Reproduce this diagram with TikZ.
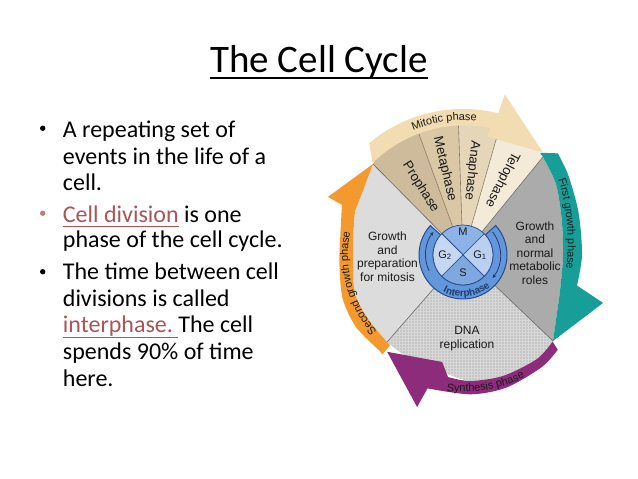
\documentclass[tikz,border=0pt]{standalone}
\usepackage{fontspec}
\setmainfont{Carlito}
\newfontfamily\dfont{Liberation Sans}
\usetikzlibrary{decorations.text,arrows.meta,patterns}
\definecolor{ulred}{HTML}{A85656}
\definecolor{bulred}{HTML}{C27A7A}
\definecolor{g2col}{HTML}{DCDCDC}
\definecolor{scol}{HTML}{C6C6C6}
\definecolor{g1col}{HTML}{ABABAB}
\definecolor{procol}{HTML}{CDBB9C}
\definecolor{metacol}{HTML}{DAC7A5}
\definecolor{anacol}{HTML}{E6D6B9}
\definecolor{telocol}{HTML}{F3EAD8}
\definecolor{creamcol}{HTML}{F2DCB2}
\definecolor{orangecol}{HTML}{F4992D}
\definecolor{tealcol}{HTML}{179E99}
\definecolor{purplecol}{HTML}{8E2C7C}
\definecolor{ringcol}{HTML}{6496DC}
\definecolor{ringedge}{HTML}{254D8E}
\definecolor{mcol}{HTML}{8CB2E8}
\definecolor{sqcol}{HTML}{7FA7E0}
\definecolor{g1q}{HTML}{BBD0F0}
\definecolor{g2q}{HTML}{C6D7F2}
\definecolor{dtext}{HTML}{1A1A1A}
\definecolor{divcol}{HTML}{6A6A6A}
\definecolor{wedgecol}{HTML}{8C7B5E}
\newcommand\myul[1]{\setbox0\hbox{#1}\rlap{\rule[-5pt]{\wd0}{1.2pt}}\box0}
\newcommand\bandfont{\dfont\fontsize{11}{13}\selectfont}
\newcommand\ringfont{\dfont\bfseries\fontsize{10}{12}\selectfont}
\tikzset{
  bodytxt/.style={anchor=base west, inner sep=0pt, font=\fontsize{24}{27}\selectfont},
  bulletdot/.style={circle, fill=black, inner sep=0pt, minimum size=5.4pt},
  slabel/.style={align=center, text=dtext, inner sep=0pt, font=\dfont\fontsize{12}{13.5}\selectfont},
  wlabel/.style={text=dtext, inner sep=0pt, font=\dfont\fontsize{13.3}{15}\selectfont},
  qlabel/.style={text=dtext, inner sep=0pt, font=\dfont\fontsize{11}{13}\selectfont},
  divline/.style={draw=divcol, line width=0.6pt},
  wedgeline/.style={draw=wedgecol, line width=0.6pt},
  bandtext/.style={decorate, decoration={text along path, text align=center, text color=dtext}},
}
\begin{document}
\begin{tikzpicture}[x=1pt,y=1pt]
\useasboundingbox (0,0) rectangle (638,479);
\fill[white] (0,0) rectangle (638,479);

% ---------- title ----------
\node[anchor=base, inner sep=0pt, font=\fontsize{39}{45}\selectfont] (title) at (319,406) {The Cell Cycle};
\draw[line width=2pt] ([yshift=-5pt]title.base west) -- ([yshift=-5pt]title.base east);

% ---------- bullets ----------
\node[bulletdot] (b1) at (42.7,350.7) {};
\node[bulletdot, fill=bulred] (b2) at (42.7,265.7) {};
\node[bulletdot] (b3) at (42.7,207.3) {};

\node[bodytxt] (l1) at (62.7,341) {A repeating set of};
\node[bodytxt] (l2) at (62.7,314) {events in the life of a};
\node[bodytxt] (l3) at (62.7,288) {cell.};
\node[bodytxt] (l4) at (62.7,256.7) {\textcolor{ulred}{\myul{Cell division}} is one};
\node[bodytxt] (l5) at (62.7,231) {phase of the cell cycle.};
\node[bodytxt] (l6) at (62.7,199) {The time between cell};
\node[bodytxt] (l7) at (62.7,172.3) {divisions is called};
\node[bodytxt] (l8) at (62.7,146) {\textcolor{ulred}{\myul{interphase.\ }}The cell};
\node[bodytxt] (l9) at (62.7,119) {spends 90\% of time};
\node[bodytxt] (l10) at (62.7,92.3) {here.};

% ---------- diagram ----------
\begin{scope}[shift={(463,224)}]
% sectors
\fill[g2col] (0,0) -- plot[smooth] coordinates {(134.7:128) (138.3:124.6) (155.2:116.8) (171.7:111.2) (184.7:110.4) (199.9:114.8) (214:114.5) (228.9:115.5)} -- cycle;
\fill[scol] (0,0) -- plot[smooth] coordinates {(228.9:115.5) (243:116.7) (257:117.5) (273:126) (288.3:127.4) (305.4:127.6) (316.3:124.5)} -- cycle;
\fill[pattern=grid, pattern color=white!30!scol] (0,0) -- plot[smooth] coordinates {(228.9:115.5) (243:116.7) (257:117.5) (273:126) (288.3:127.4) (305.4:127.6) (316.3:124.5)} -- cycle;
\fill[g1col] (0,0) -- plot[smooth] coordinates {(-43.7:124.5) (-34.5:113) (-19.3:103) (0:100) (20:105) (37.4:117) (50.8:126.5)} -- cycle;
% mitotic wedges
\fill[procol] (0,0) -- (134.7:128) -- (128:134) -- (110:140) -- cycle;
\fill[metacol] (0,0) -- (110:140) arc[start angle=110, end angle=92, radius=140] -- cycle;
\fill[anacol] (0,0) -- (92:140) arc[start angle=92, end angle=74, radius=140] -- cycle;
\fill[telocol] (0,0) -- (74:140) -- (60:134) -- (50.8:126.5) -- cycle;
% divider lines
\draw[divline] (0,0) -- (134.7:128);
\draw[divline] (0,0) -- (50.8:126.5);
\draw[divline] (0,0) -- (228.9:115.5);
\draw[divline] (0,0) -- (-43.7:124.5);
\draw[wedgeline] (0,0) -- (110:132);
\draw[wedgeline] (0,0) -- (92:132);
\draw[wedgeline] (0,0) -- (74:123);

% orange band (second growth phase)
\fill[orangecol] (231:116) -- plot[smooth] coordinates {(228.9:115.5) (214:114.5) (199.9:114.8) (184.7:110.4) (171.7:111.2) (158:116.5)}
  -- (134.7:128) -- (156.7:147) -- (157.5:131)
  -- plot[smooth] coordinates {(157.5:131) (172:124) (185:124) (200:128) (214:129) (229:127)} -- (231:128) -- cycle;
% teal band (first growth phase)
\fill[tealcol] (53:128) -- plot[smooth] coordinates {(50.8:126.5) (37.4:117) (20:105) (0:100) (-19.3:103) (-34.5:113) (-43.7:124.5)}
  -- (-18.9:148) -- (-15:118)
  -- plot[smooth] coordinates {(-15:118) (0:119) (20:123) (37:132) (47:139)} -- cycle;
% purple band (synthesis phase)
\fill[purplecol] (-44:124.5) -- plot[smooth] coordinates {(-43.7:124.5) (-54.6:127.6) (-71.7:127.4) (-86.8:126.2) (-97:123)}
  -- (259:109) -- (231.9:123) -- (253.2:158.8) -- (-104.9:138)
  -- plot[smooth] coordinates {(-104.9:138) (-87:139.5) (-72:139.5) (-55:137) (-45:134)} -- cycle;
% cream band (mitotic phase)
\fill[creamcol] (134.5:129) arc[start angle=134.5, end angle=78.6, radius=131] -- (78.6:121) -- (52:130) -- (75.4:166) -- (76:146) arc[start angle=76, end angle=130, radius=146] -- cycle;

% band texts
\path[bandtext, decoration={text={|\bandfont|Mitotic phase}}] (120:134.5) arc[start angle=120, end angle=76, radius=134.5];
\path[bandtext, decoration={text={|\bandfont|First growth phase}}] ([shift={(-117.2,12)}]22:222) arc[start angle=22, end angle=-12, radius=222];
\path[bandtext, decoration={text={|\bandfont|Synthesis phase}}] (255:137) arc[start angle=255, end angle=305, radius=137];
\path[bandtext, decoration={text={|\bandfont|Second growth phase}}] (228:115) arc[start angle=228, end angle=162, radius=115];

% central circle
\fill[ringcol, draw=ringedge, line width=1pt] (138:44) arc[start angle=138, end angle=402, radius=44] -- (42:30) arc[start angle=42, end angle=-222, radius=30] -- cycle;
\filldraw[fill=mcol, draw=ringedge, line width=0.7pt] (0,0) -- (45:30) arc[start angle=45, end angle=135, radius=30] -- cycle;
\filldraw[fill=g2q, draw=ringedge, line width=0.7pt] (0,0) -- (135:30) arc[start angle=135, end angle=225, radius=30] -- cycle;
\filldraw[fill=sqcol, draw=ringedge, line width=0.7pt] (0,0) -- (225:30) arc[start angle=225, end angle=315, radius=30] -- cycle;
\filldraw[fill=g1q, draw=ringedge, line width=0.7pt] (0,0) -- (-45:30) arc[start angle=-45, end angle=45, radius=30] -- cycle;
\draw[ringedge!80!black, line width=0.8pt, -{Stealth[length=4pt,width=3.5pt]}] (205:37.5) arc[start angle=205, end angle=142, radius=37.5];
\draw[ringedge!80!black, line width=0.8pt, -{Stealth[length=4pt,width=3.5pt]}] (38:37.5) arc[start angle=38, end angle=-38, radius=37.5];
\path[decorate, decoration={text along path, text align=center, text color=ringedge!80!black, text={|\ringfont|Interphase}}] (236:41.8) arc[start angle=236, end angle=316, radius=41.8];

% labels
\node[qlabel] (qm) at (0,23) {M};
\node[qlabel] (qg2) at (-18,0) {G\textsubscript{2}};
\node[qlabel] (qg1) at (17,0) {G\textsubscript{1}};
\node[qlabel] (qs) at (0,-18) {S};

\node[wlabel, rotate=-58] (pro) at (122:80) {Prophase};
\node[wlabel, rotate=-77] (meta) at (102:88) {Metaphase};
\node[wlabel, rotate=-96] (ana) at (84:85) {Anaphase};
\node[wlabel, rotate=-117] (telo) at (62.5:85) {Telophase};

\node[slabel] (g2txt) at (-75.5,-1.5) {Growth\\and\\preparation\\for mitosis};
\node[slabel] (g1txt) at (72,2) {Growth\\and\\normal\\metabolic\\roles};
\node[slabel] (stxt) at (4,-83.5) {DNA\\replication};
\end{scope}
\end{tikzpicture}
\end{document}
